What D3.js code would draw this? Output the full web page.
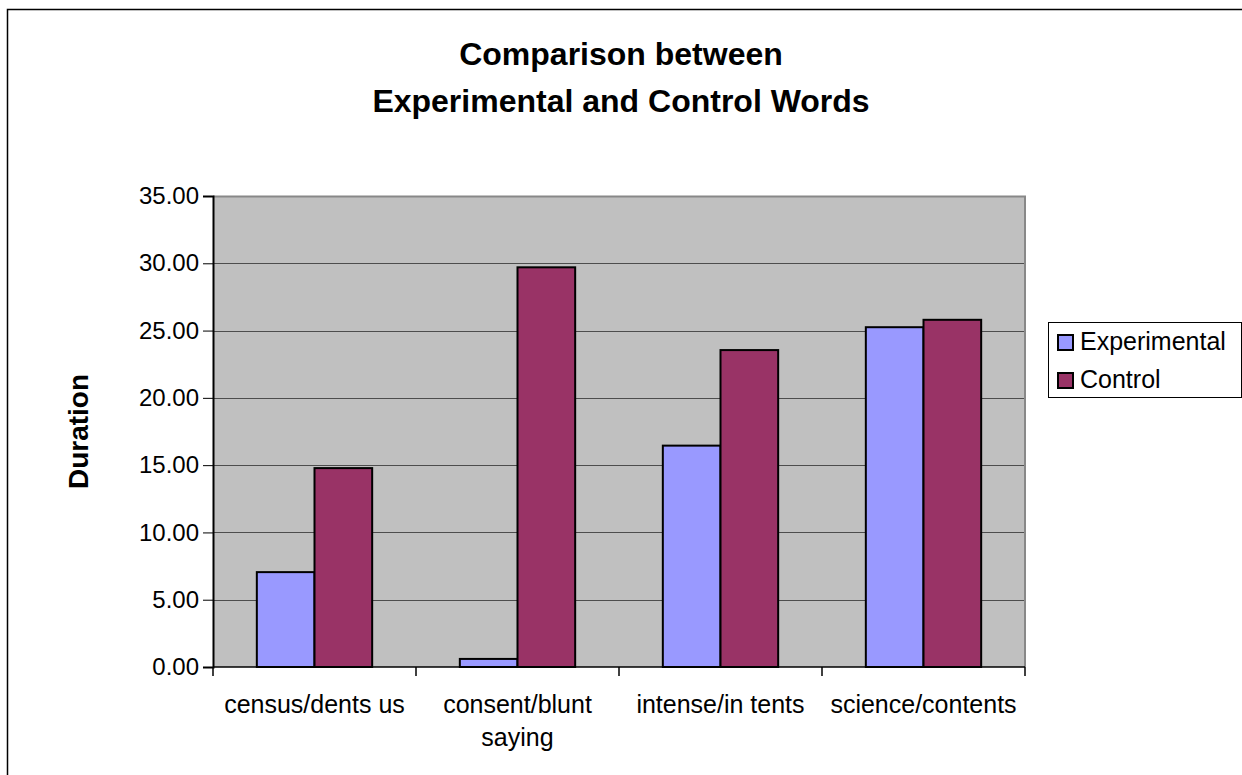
<!DOCTYPE html>
<html>
<head>
<meta charset="utf-8">
<script src="https://cdn.jsdelivr.net/npm/d3@7"></script>
<style>
    body { margin: 0; background: #fff; }
    svg { display: block; font-family: "Liberation Sans", Arial, sans-serif; }
</style>
</head>
<body>
<div class="charts-div"></div>
<script>
const categories = [["census/dents us"], ["consent/blunt", "saying"], ["intense/in tents"], ["science/contents"]];
const seriesNames = ["Experimental", "Control"];
const experimental = [7.05, 0.6, 16.45, 25.25];
const control = [14.78, 29.7, 23.55, 25.8];
const yTicks = [0, 5, 10, 15, 20, 25, 30, 35];
const colors = ["#9999ff", "#993366"];

const width = 1242, height = 775;
const margins = { top: 196, right: 217, bottom: 108, left: 213 };

const svg = d3.select(".charts-div").append("svg")
    .attr("width", width).attr("height", height);

// outer chart frame
svg.append("rect")
    .attr("x", 7.5).attr("y", 9.5).attr("width", width).attr("height", height)
    .attr("fill", "none").attr("stroke", "#000").attr("stroke-width", 1.5);

const x0 = d3.scaleBand().domain(d3.range(categories.length))
    .range([margins.left, width - margins.right]);
const x1 = d3.scaleBand().domain(d3.range(seriesNames.length))
    .range([0, x0.bandwidth()]).paddingOuter(0.76).paddingInner(0);
const y = d3.scaleLinear().domain([0, 35]).range([height - margins.bottom, margins.top]);

const plotL = margins.left, plotR = width - margins.right;
const plotT = margins.top, plotB = height - margins.bottom;

// plot background
svg.append("rect")
    .attr("x", plotL).attr("y", plotT).attr("width", plotR - plotL).attr("height", plotB - plotT)
    .attr("fill", "#c0c0c0");

// gridlines
svg.append("g").selectAll("line").data(yTicks.filter(d => d > 0 && d < 35)).join("line")
    .attr("x1", plotL).attr("x2", plotR)
    .attr("y1", d => Math.round(y(d)) + 0.5).attr("y2", d => Math.round(y(d)) + 0.5)
    .attr("stroke", "#4d4d4d").attr("stroke-width", 1);

// plot border top/right
svg.append("path")
    .attr("d", `M${plotL},${plotT + 0.5}H${plotR}V${plotB}`)
    .attr("fill", "none").attr("stroke", "#888").attr("stroke-width", 2);

// bars
const rows = categories.map((c, i) => [experimental[i], control[i]]);
svg.append("g").selectAll("g").data(rows).join("g")
    .attr("transform", (d, i) => `translate(${x0(i)},0)`)
    .selectAll("rect").data(d => d.map((v, s) => ({ v, s }))).join("rect")
    .attr("x", d => x1(d.s))
    .attr("width", x1.bandwidth())
    .attr("y", d => y(d.v))
    .attr("height", d => y(0) - y(d.v))
    .attr("fill", d => colors[d.s])
    .attr("stroke", "#000").attr("stroke-width", 2);

// y axis
const yAxis = svg.append("g").attr("transform", `translate(${plotL},0)`)
    .call(d3.axisLeft(y).tickValues(yTicks).tickFormat(d3.format(".2f")).tickSize(10).tickPadding(4));
yAxis.select(".domain").attr("stroke-width", 2);
yAxis.selectAll("text").attr("font-size", 24).attr("fill", "#000")
    .attr("font-family", "'Liberation Sans', Arial, sans-serif");

// x axis
const xAxis = svg.append("g").attr("transform", `translate(0,${plotB})`);
xAxis.append("line").attr("x1", plotL).attr("x2", plotR).attr("stroke", "#000").attr("stroke-width", 1.5);
xAxis.selectAll("line.tick").data(d3.range(categories.length + 1)).join("line")
    .attr("class", "tick")
    .attr("x1", i => i < categories.length ? x0(i) : plotR)
    .attr("x2", i => i < categories.length ? x0(i) : plotR)
    .attr("y1", 0).attr("y2", 9).attr("stroke", "#000").attr("stroke-width", 1.5);
xAxis.selectAll("text").data(categories).join("text")
    .attr("x", (d, i) => x0(i) + x0.bandwidth() / 2)
    .attr("y", 46)
    .attr("text-anchor", "middle").attr("font-size", 25)
    .selectAll("tspan").data(d => d).join("tspan")
    .attr("x", function () { return this.parentNode.getAttribute("x"); })
    .attr("dy", (d, j) => j === 0 ? 0 : 33)
    .text(d => d);

// y axis title
svg.append("text")
    .attr("transform", `translate(88,${(plotT + plotB) / 2}) rotate(-90)`)
    .attr("text-anchor", "middle").attr("font-size", 28).attr("font-weight", "bold")
    .text("Duration");

// chart title
const title = svg.append("text").attr("text-anchor", "middle").attr("font-size", 32).attr("font-weight", "bold");
title.append("tspan").attr("x", 621).attr("y", 65).text("Comparison between");
title.append("tspan").attr("x", 621).attr("y", 112).text("Experimental and Control Words");

// legend
const legend = svg.append("g").attr("transform", "translate(1048,322)");
legend.append("rect").attr("x", 0.5).attr("y", 0.5).attr("width", 193).attr("height", 75)
    .attr("fill", "#fff").attr("stroke", "#000").attr("stroke-width", 1);
const items = legend.selectAll("g").data(seriesNames).join("g")
    .attr("transform", (d, i) => `translate(10,${13 + i * 38})`);
items.append("rect").attr("width", 15).attr("height", 15)
    .attr("fill", (d, i) => colors[i]).attr("stroke", "#000").attr("stroke-width", 2);
items.append("text").attr("x", 22).attr("y", 15).attr("font-size", 25).text(d => d);
</script>
</body>
</html>
